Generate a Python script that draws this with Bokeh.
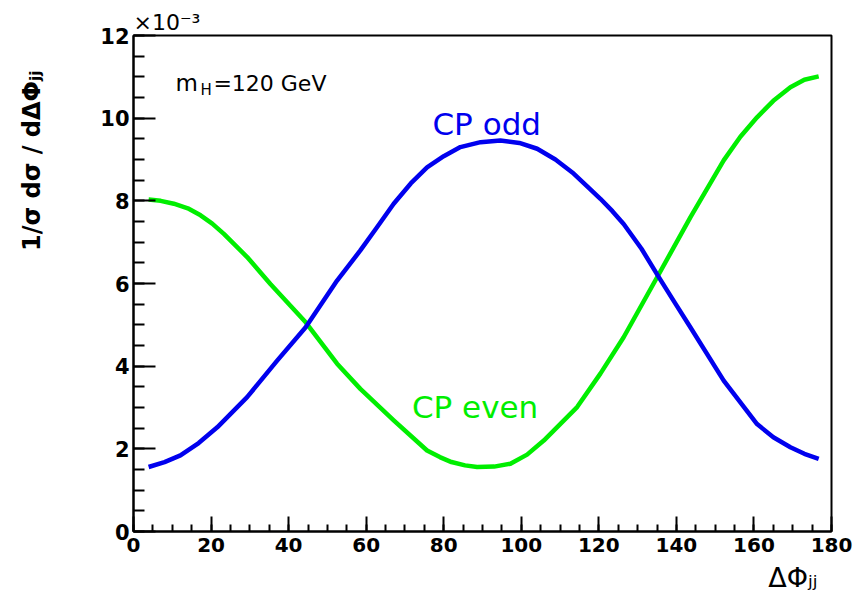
import math
from bokeh.plotting import figure
from bokeh.layouts import row
from bokeh.models import Label, Range1d, SingleIntervalTicker, Title
from bokeh.embed import file_html
from bokeh.resources import INLINE

# Delta Phi_jj (degrees) and 1/sigma dsigma/dDeltaPhi_jj (in units of 1e-3)
even_x = [3.9, 7.0, 10.4, 14.0, 17.3, 20.3, 23.3, 29.3, 35.3, 44.4, 52.5, 58.5,
          67.1, 75.7, 79.0, 82.0, 85.5, 88.6, 93.0, 97.2, 101.5, 105.8, 114.4,
          120.4, 126.4, 135.5, 143.6, 152.2, 156.5, 160.8, 165.0, 169.4, 173.0, 176.7]
even_y = [8.03, 8.00, 7.93, 7.82, 7.65, 7.45, 7.20, 6.64, 5.99, 5.06, 4.06, 3.45,
          2.69, 1.96, 1.80, 1.68, 1.60, 1.56, 1.57, 1.64, 1.86, 2.20, 3.01,
          3.82, 4.70, 6.23, 7.60, 8.98, 9.55, 10.02, 10.42, 10.75, 10.93, 11.01]

odd_x = [3.9, 8.0, 12.1, 16.8, 21.6, 29.3, 37.1, 44.4, 52.5, 58.5, 62.8, 67.1,
         71.5, 75.7, 80.0, 84.3, 89.5, 94.6, 99.5, 104.1, 108.8, 113.5, 117.0,
         120.4, 123.5, 126.4, 131.0, 135.5, 139.5, 143.6, 152.2, 160.8, 165.0,
         169.4, 173.0, 176.7]
odd_y = [1.56, 1.68, 1.84, 2.14, 2.52, 3.25, 4.14, 4.94, 6.07, 6.80, 7.36, 7.93,
         8.42, 8.81, 9.08, 9.30, 9.42, 9.46, 9.40, 9.26, 9.00, 8.66, 8.35,
         8.05, 7.75, 7.44, 6.84, 6.15, 5.55, 4.94, 3.65, 2.60, 2.28,
         2.04, 1.88, 1.76]

FONT = "DejaVu Sans"
LEFT_W = 80

p = figure(frame_width=698, frame_height=496, output_backend="svg",
           toolbar_location=None, x_range=Range1d(0, 180), y_range=Range1d(0, 12),
           min_border_left=133 - LEFT_W, min_border_right=30, min_border_top=35,
           min_border_bottom=79, background_fill_color="white",
           border_fill_color="white")
p.grid.visible = False
p.outline_line_color = "black"
p.outline_line_width = 2

p.xaxis.ticker = SingleIntervalTicker(interval=20, num_minor_ticks=4)
p.yaxis.ticker = SingleIntervalTicker(interval=2, num_minor_ticks=4)
for ax in (p.xaxis, p.yaxis):
    ax.axis_line_width = 2
    ax.axis_line_color = "black"
    ax.major_tick_line_width = 2
    ax.minor_tick_line_width = 2
    ax.major_tick_out = 0
    ax.minor_tick_out = 0
    ax.major_label_text_font = FONT
    ax.major_label_text_font_style = "bold"
    ax.major_label_text_color = "black"
p.xaxis.major_tick_in = 15
p.xaxis.minor_tick_in = 7
p.yaxis.major_tick_in = 22
p.yaxis.minor_tick_in = 11
p.xaxis.major_label_text_font_size = "20px"
p.yaxis.major_label_text_font_size = "21px"
p.xaxis.major_label_standoff = 6
p.yaxis.major_label_standoff = 4

p.line(even_x, even_y, line_color="#00ee00", line_width=4.5, line_join="round")
p.line(odd_x, odd_y, line_color="#0000ee", line_width=4.5, line_join="round")


def lab(fig, x, y, text, size, color="black", style="normal", align="left", angle=0.0):
    fig.add_layout(Label(x=x, y=y, text=text, text_font=FONT, text_font_size=size,
                         text_font_style=style, text_color=color, text_align=align,
                         text_baseline="alphabetic", angle=angle, angle_units="rad"))


# annotations inside the frame
lab(p, 77.1, 9.87, "CP odd", "31px", color="#0000ee")
lab(p, 71.8, 3.02, "CP even", "31px", color="#00ee00")
lab(p, 10.83, 10.84, "m", "23px")
lab(p, 17.3, 10.67, "H", "15px")
lab(p, 20.6, 10.84, "=120 GeV", "22px")

# exponent above the frame
p.title.text = "\u00d710\u207b\u00b3"
p.title.align = "left"
p.title.text_font = FONT
p.title.text_font_size = "22px"
p.title.text_font_style = "normal"
p.title.text_color = "black"
p.title.standoff = 1

# x title
p.add_layout(Title(text="\u0394\u03a6\u2c7c\u2c7c", align="right", offset=14,
                   text_font=FONT, text_font_size="27px", text_font_style="normal",
                   text_color="black", standoff=11), "below")

# y title in a narrow side panel (pixel coordinates)
side = figure(frame_width=LEFT_W, frame_height=610, output_backend="svg",
              toolbar_location=None, x_range=Range1d(0, LEFT_W), y_range=Range1d(0, 610),
              min_border=0, background_fill_color="white", border_fill_color="white")
side.axis.visible = False
side.grid.visible = False
side.outline_line_color = None
lab(side, 31, 575, "1/\u03c3 d\u03c3 / d\u0394\u03a6\u2c7c\u2c7c", "24px", style="bold",
    align="right", angle=math.pi / 2)

layout = row(side, p, spacing=0)
open("out.html", "w").write(file_html(layout, INLINE))
